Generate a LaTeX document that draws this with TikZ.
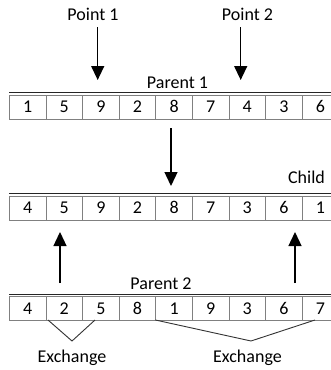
\documentclass[tikz,border=0pt]{standalone}
\usepackage{fontspec}
\setmainfont{Carlito}
\usetikzlibrary{arrows.meta}
\begin{document}
\begin{tikzpicture}[x=1pt,y=-1pt,
  lbl/.style={font=\fontsize{18}{20}\selectfont, inner sep=0pt, anchor=base},
  cell/.style={draw=black!50, line width=0.8pt, minimum width=36.6pt, minimum height=24pt, inner sep=0pt, font=\fontsize{18}{20}\selectfont, anchor=north west},
  rim/.style={draw=black!85, line width=0.9pt},
  arr/.style={line width=1.3pt, -{Triangle[width=13pt,length=14pt]}},
  brk/.style={draw=black!80, line width=0.9pt}]
\useasboundingbox (0,0) rectangle (331,370);
\clip (0,0) rectangle (331,370);
% rows
\foreach \v [count=\i] in {1,5,9,2,8,7,4,3,6}
  \node[cell] (a\i) at ({9+36.6*(\i-1)},94.5) {\v};
\foreach \v [count=\i] in {4,5,9,2,8,7,3,6,1}
  \node[cell] (b\i) at ({9+36.6*(\i-1)},195.5) {\v};
\foreach \v [count=\i] in {4,2,5,8,1,9,3,6,7}
  \node[cell] (c\i) at ({9+36.6*(\i-1)},296) {\v};
\draw[rim] ([yshift=2pt]a1.north west) -- ([yshift=2pt]a9.north east);
\draw[rim] ([yshift=2pt]b1.north west) -- ([yshift=2pt]b9.north east);
\draw[rim] ([yshift=2pt]c1.north west) -- ([yshift=2pt]c9.north east);
% labels
\node[lbl] (pt1) at (93,20) {Point 1};
\node[lbl] (pt2) at (247.5,20) {Point 2};
\node[lbl] (par1) at (177.5,88) {Parent 1};
\node[lbl] (child) at (306.5,183) {Child};
\node[lbl] (par2) at (161,289.5) {Parent 2};
\node[lbl] (ex1) at (72,362) {Exchange};
\node[lbl] (ex2) at (247.5,362) {Exchange};
% arrows
\coordinate (s1) at (97.7,27);  \coordinate (t1) at (97.7,80);
\coordinate (s2) at (240.7,27); \coordinate (t2) at (240.7,80);
\coordinate (s3) at (171,128);  \coordinate (t3) at (171,186);
\coordinate (s4) at (60,283);   \coordinate (t4) at (60,232);
\coordinate (s5) at (295,283);  \coordinate (t5) at (295,232);
\draw[arr] (s1) -- (t1);
\draw[arr] (s2) -- (t2);
\draw[arr] (s3) -- (t3);
\draw[arr] (s4) -- (t4);
\draw[arr] (s5) -- (t5);
% exchange brackets
\coordinate (l1) at (48,320);   \coordinate (l2) at (72,341);  \coordinate (l3) at (95,320);
\coordinate (r1) at (155.4,320);\coordinate (r2) at (251,341); \coordinate (r3) at (315,320);
\draw[brk] (l1) -- (l2) -- (l3);
\draw[brk] (r1) -- (r2) -- (r3);
\end{tikzpicture}
\end{document}
